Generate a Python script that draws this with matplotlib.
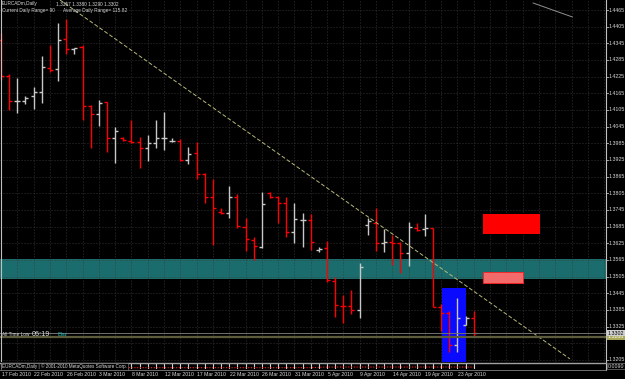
import matplotlib
matplotlib.use('Agg')
import matplotlib.pyplot as plt
from matplotlib.patches import Rectangle

# ---------------- data ----------------
opens = [1.4357, 1.4226, 1.4136, 1.4139, 1.4154, 1.4171, 1.4257, 1.4252, 1.4360, 1.4325,
         1.4331, 1.4121, 1.4090, 1.4134, 1.4003, 1.4005, 1.3993, 1.3989, 1.3969, 1.3987,
         1.4003, 1.3993, 1.3995, 1.3925, 1.3949, 1.3874, 1.3791, 1.3739, 1.3735, 1.3791,
         1.3683, 1.3637, 1.3613, 1.3805, 1.3791, 1.3769, 1.3667, 1.3709, 1.3709, 1.3601,
         1.3607, 1.3491, 1.3399, 1.3399, 1.3385, 1.3691, 1.3697, 1.3627, 1.3628, 1.3626,
         1.3591, 1.3679, 1.3677, 1.3679, 1.3395, 1.3375, 1.3259, 1.3331, 1.3357]
highs = [1.4382, 1.4234, 1.4219, 1.4155, 1.4187, 1.4299, 1.4339, 1.4419, 1.4433, 1.4327,
         1.4339, 1.4123, 1.4141, 1.4135, 1.4045, 1.4007, 1.4069, 1.4009, 1.4015, 1.4069,
         1.4099, 1.4005, 1.4000, 1.3971, 1.3989, 1.3877, 1.3856, 1.3751, 1.3831, 1.3803,
         1.3717, 1.3649, 1.3809, 1.3809, 1.3795, 1.3791, 1.3769, 1.3735, 1.3731, 1.3613,
         1.3633, 1.3503, 1.3439, 1.3457, 1.3555, 1.3715, 1.3751, 1.3676, 1.3655, 1.3631,
         1.3703, 1.3697, 1.3730, 1.3681, 1.3407, 1.3383, 1.3427, 1.3363, 1.3380]
lows = [1.4213, 1.4105, 1.4093, 1.4127, 1.4108, 1.4129, 1.4243, 1.4209, 1.4307, 1.4307,
        1.4069, 1.3967, 1.4049, 1.3955, 1.3913, 1.3995, 1.3987, 1.3895, 1.3923, 1.3967,
        1.3961, 1.3989, 1.3923, 1.3911, 1.3856, 1.3771, 1.3619, 1.3731, 1.3715, 1.3679,
        1.3598, 1.3565, 1.3607, 1.3787, 1.3697, 1.3649, 1.3625, 1.3611, 1.3601, 1.3595,
        1.3487, 1.3361, 1.3339, 1.3371, 1.3357, 1.3655, 1.3598, 1.3595, 1.3547, 1.3517,
        1.3543, 1.3670, 1.3651, 1.3395, 1.3311, 1.3235, 1.3235, 1.3331, 1.3290]
closes = [1.4229, 1.4136, 1.4139, 1.4148, 1.4171, 1.4259, 1.4249, 1.4357, 1.4324, 1.4327,
          1.4121, 1.4090, 1.4131, 1.4003, 1.4031, 1.3996, 1.3990, 1.3968, 1.3986, 1.4003,
          1.4004, 1.3994, 1.3925, 1.3946, 1.3874, 1.3791, 1.3753, 1.3735, 1.3791, 1.3687,
          1.3640, 1.3615, 1.3767, 1.3791, 1.3769, 1.3667, 1.3711, 1.3710, 1.3631, 1.3606,
          1.3493, 1.3403, 1.3398, 1.3385, 1.3541, 1.3707, 1.3625, 1.3628, 1.3626, 1.3591,
          1.3685, 1.3673, 1.3679, 1.3397, 1.3373, 1.3259, 1.3357, 1.3357, 1.3302]

date_labels = ["17 Feb 2010", "22 Feb 2010", "26 Feb 2010", "3 Mar 2010", "8 Mar 2010",
               "12 Mar 2010", "17 Mar 2010", "22 Mar 2010", "26 Mar 2010", "31 Mar 2010",
               "5 Apr 2010", "9 Apr 2010", "14 Apr 2010", "19 Apr 2010", "23 Apr 2010"]
price_ticks = [1.4465, 1.4405, 1.4345, 1.4285, 1.4225, 1.4165, 1.4105, 1.4045, 1.3985,
               1.3925, 1.3865, 1.3805, 1.3745, 1.3685, 1.3625, 1.3565, 1.3505, 1.3445,
               1.3385, 1.3325, 1.3265, 1.3205]
hidden_price_labels = [1.3265]

bid_price = 1.3302
low_line_price = 1.3288
support_band = [1.3496, 1.3568]
red_zone = [59.1, 66.1, 1.3659, 1.3731]      # x0, x1, y0, y1 (bar index / price)
pink_zone = [59.1, 64.1, 1.3483, 1.3521]
blue_zone = [54.07, 57.1, 1.3100, 1.3465]
trend_x = [7.24, 69.8]
trend_y = [1.4501, 1.3209]
short_x = [65.3, 70.1]
short_y = [1.4490, 1.4440]

sub_hist = [0.0090, 0.0090, 0.0090, 0.0090, 0.0090, 0.0090, 0.0090, 0.0090, 0.0090, 0.0090,
            0.0090, 0.0090, 0.0090, 0.0090, 0.0090, 0.0090, 0.0090, 0.0090, 0.0090, 0.0090,
            0.0090, 0.0090, 0.0090, 0.0090, 0.0090, 0.0090, 0.0090, 0.0090, 0.0090, 0.0090,
            0.0090, 0.0090, 0.0090, 0.0090, 0.0090, 0.0090, 0.0090, 0.0090, 0.0090, 0.0090,
            0.0090, 0.0090, 0.0090, 0.0090, 0.0090, 0.0090, 0.0090, 0.0090, 0.0090, 0.0090,
            0.0090, 0.0090, 0.0090, 0.0090, 0.0090, 0.0090, 0.0090, 0.0090, 0.0090]
sub_line = [0.0025, 0.0025, 0.0025, 0.0025, 0.0025, 0.0025, 0.0025, 0.0025, 0.0025, 0.0025,
            0.0025, 0.0025, 0.0025, 0.0025, 0.0025, 0.0025, 0.0025, 0.0025, 0.0025, 0.0025,
            0.0025, 0.0025, 0.0025, 0.0025, 0.0025, 0.0025, 0.0025, 0.0025, 0.0025, 0.0025,
            0.0025, 0.0025, 0.0025, 0.0025, 0.0025, 0.0025, 0.0025, 0.0025, 0.0025, 0.0030,
            0.0035, 0.0035, 0.0035, 0.0035, 0.0035, 0.0035, 0.0035, 0.0035, 0.0035, 0.0035,
            0.0035, 0.0035, 0.0035, 0.0035, 0.0035, 0.0035, 0.0035, 0.0035, 0.0035]

# ---------------- figure ----------------
W, H = 625, 379
fig = plt.figure(figsize=(W / 100, H / 100), dpi=100, facecolor='black')
FONT = 'Liberation Sans'
TXT = '#d8d8d8'

def fx(px):
    return px / W

def fy(py):
    return 1 - py / H

XMIN, XMAX = -0.123, 74.23
YMIN, YMAX = 1.31978, 1.4501

ax = fig.add_axes([0, fy(362), fx(606), 362 / H])
ax.set_facecolor('black')
ax.set_xlim(XMIN, XMAX)
ax.set_ylim(YMIN, YMAX)
ax.set_xticks([])
ax.set_yticks([])
for s in ax.spines.values():
    s.set_visible(False)

grid_kw = dict(color='#3a3a3a', lw=0.6, linestyle=(0, (1.2, 2.4)), zorder=2)
for p in price_ticks:
    ax.axhline(p, **grid_kw)
for gx in range(0, 75, 2):
    ax.axvline(gx, **grid_kw)

# zones
ax.axhspan(support_band[0], support_band[1], color='#1b6d6d', zorder=1, lw=0)
ax.add_patch(Rectangle((red_zone[0], red_zone[2]), red_zone[1] - red_zone[0],
                       red_zone[3] - red_zone[2], facecolor='#ff0000', lw=0, zorder=2.5))
ax.add_patch(Rectangle((pink_zone[0], pink_zone[2]), pink_zone[1] - pink_zone[0],
                       pink_zone[3] - pink_zone[2], facecolor='#f26a6a', edgecolor='#ff2020',
                       lw=0.6, zorder=2.5))
ax.add_patch(Rectangle((blue_zone[0], blue_zone[2]), blue_zone[1] - blue_zone[0],
                       blue_zone[3] - blue_zone[2], facecolor='#0a0aff', lw=0, zorder=2.5))

# bars
tick = 0.37
for i, (o, h, l, c) in enumerate(zip(opens, highs, lows, closes)):
    col = '#c8c8c8' if c >= o else '#ff0000'
    ax.plot([i, i], [l, h], color=col, lw=1.0, zorder=3, solid_capstyle='butt')
    ax.plot([i - tick, i], [o, o], color=col, lw=1.0, zorder=3, solid_capstyle='butt')
    ax.plot([i, i + tick], [c, c], color=col, lw=1.0, zorder=3, solid_capstyle='butt')

# lines
ax.plot(trend_x, trend_y, color='#b8b878', lw=0.7, dashes=(4.1, 2.1), zorder=4)
ax.plot(short_x, short_y, color='#909090', lw=0.7, zorder=4)
ax.axhline(bid_price, color='#707070', lw=0.7, zorder=4)
ax.axhline(low_line_price, color='#5c5c3c', lw=1.6, zorder=4)
ax.axvline(0.03, color='#c0c0c0', lw=0.8, zorder=5)

# header texts
HF = 3.4
fig.text(fx(2), fy(4), "EURCADm,Daily", color=TXT, fontsize=HF, family=FONT, va='center')
fig.text(fx(56), fy(4), "%.4f %.4f %.4f %.4f" % (opens[-1], highs[-1], lows[-1], closes[-1]),
         color=TXT, fontsize=HF, family=FONT, va='center')
fig.text(fx(2), fy(10.5), "Current Daily Range= 90", color=TXT, fontsize=HF, family=FONT, va='center')
fig.text(fx(63), fy(10.5), "Average Daily Range= 115.82", color=TXT, fontsize=HF, family=FONT, va='center')

# All time low label
fig.text(fx(2), fy(335), "All Time Low", color=TXT, fontsize=3.4, family=FONT, va='center')
fig.text(fx(32), fy(335), "06:19", color=TXT, fontsize=5.2, family=FONT, va='center')
fig.text(fx(58), fy(335), "Bar", color='#22b0b0', fontsize=4.6, family=FONT, va='center')

# right price scale
fig.add_artist(plt.Line2D([fx(606), fx(606)], [fy(0), fy(370)], color='#c0c0c0', lw=0.8))
for p in price_ticks:
    if p in hidden_price_labels:
        continue
    ypx = (YMAX - p) / (YMAX - YMIN) * 362
    fig.add_artist(plt.Line2D([fx(606), fx(608)], [fy(ypx), fy(ypx)], color='#c0c0c0', lw=0.6))
    fig.text(fx(609), fy(ypx), "%.4f" % p, color=TXT, fontsize=3.8, family=FONT, va='center')

def price_box(p, bg, fg):
    ypx = (YMAX - p) / (YMAX - YMIN) * 362
    fig.text(fx(607.5), fy(ypx), "%.4f" % p, color=fg, fontsize=3.8, family=FONT, va='center',
             bbox=dict(boxstyle='square,pad=0.12', facecolor=bg, edgecolor=bg, lw=0))

price_box(low_line_price, '#a8a858', '#ffffff')
price_box(bid_price, '#d0d0d0', '#000000')

# sub window
ax2 = fig.add_axes([0, fy(369.3), fx(606), 6.8 / H])
ax2.set_facecolor('black')
ax2.set_xlim(XMIN, XMAX)
ax2.set_ylim(0, 0.0105)
ax2.set_xticks([])
ax2.set_yticks([])
for s in ax2.spines.values():
    s.set_visible(False)
for i, v in enumerate(sub_hist):
    ax2.plot([i, i], [0, v], color='#d0d0d0', lw=0.8)
    ax2.plot([i - tick, i], [v, v], color='#d0d0d0', lw=0.8)
ax2.plot(range(len(sub_line)), sub_line, color='#ff2020', lw=0.8, linestyle=(0, (1, 1.5)))
fig.add_artist(plt.Line2D([0, fx(606)], [fy(362.6), fy(362.6)], color='#a0a0a0', lw=1.0))
fig.add_artist(plt.Line2D([0, fx(606)], [fy(369.5), fy(369.5)], color='#808080', lw=0.6))
fig.text(fx(2), fy(366), "EURCADm,Daily | \u00a9 2001-2010 MetaQuotes Software Corp.", color=TXT,
         fontsize=3.3, family=FONT, va='center',
         bbox=dict(boxstyle='square,pad=0.15', facecolor='black', edgecolor='#909090', lw=0.4))
fig.text(fx(607.5), fy(366), "0.0090", color=TXT, fontsize=3.8, family=FONT, va='center',
         bbox=dict(boxstyle='square,pad=0.1', facecolor='black', edgecolor='#909090', lw=0.4))

# date labels
for k, lab in enumerate(date_labels):
    i = 4 * k
    xpx = (i - XMIN) / (XMAX - XMIN) * 606
    fig.text(fx(xpx + 0.5), fy(374.5), lab, color=TXT, fontsize=3.7, family=FONT, va='center')

fig.savefig('out.png', dpi=100, facecolor='black')
